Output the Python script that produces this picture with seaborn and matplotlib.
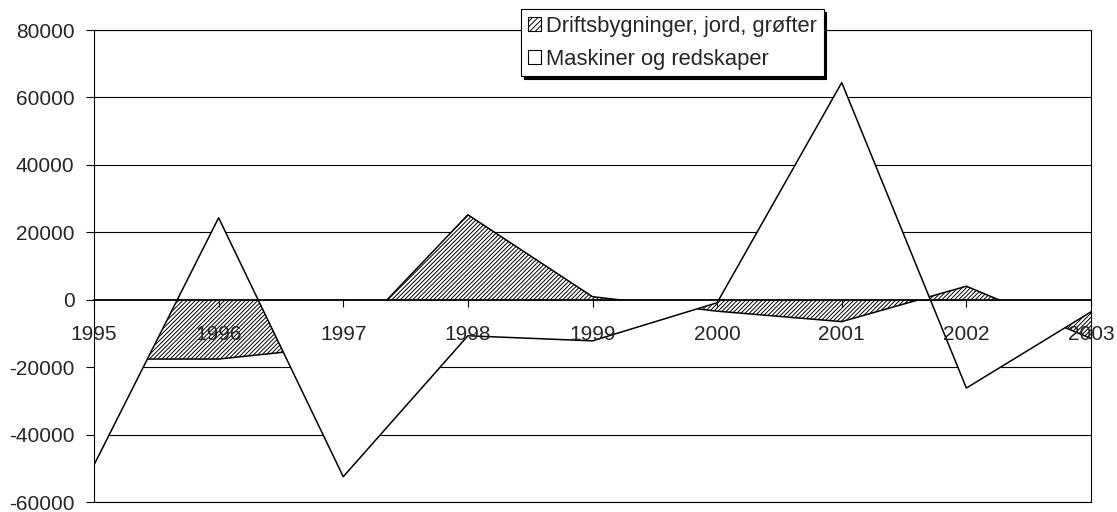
import pandas as pd
import matplotlib
matplotlib.use('Agg')
import matplotlib.pyplot as plt
from matplotlib.patches import Patch
import seaborn as sns

# data lest av fra figuren
aar = [1995, 1996, 1997, 1998, 1999, 2000, 2001, 2002, 2003]
driftsbygninger = [-17600, -17600, -13700, 25200, 900, -3400, -6500, 4000, -11500]
maskiner = [-49000, 24300, -52500, -10700, -12200, -900, 64400, -26200, -3600]
serienavn = ['Driftsbygninger, jord, grøfter', 'Maskiner og redskaper']
y_ticks = [-60000, -40000, -20000, 0, 20000, 40000, 60000, 80000]

sns.set_style('white')
plt.rcParams['font.family'] = ['Liberation Sans', 'DejaVu Sans']
plt.rcParams['axes.unicode_minus'] = False
plt.rcParams['hatch.linewidth'] = 0.7

df = pd.DataFrame({'aar': aar, 'drift': driftsbygninger, 'maskiner': maskiner})

fig = plt.figure(figsize=(11.17, 5.12), dpi=100)
ax = fig.add_axes([94 / 1117, 1 - 502 / 512, (1091 - 94) / 1117, (502 - 30) / 512])

# skravert serie bakerst, hvit serie foran (dekker den skraverte)
ax.fill_between(df['aar'], 0, df['drift'], facecolor='white', edgecolor='black',
                hatch='////////', linewidth=0, zorder=2)
sns.lineplot(data=df, x='aar', y='drift', color='black', lw=1.1, ax=ax, zorder=2.5)
ax.fill_between(df['aar'], 0, df['maskiner'], facecolor='white', edgecolor='black',
                linewidth=0, zorder=3)
sns.lineplot(data=df, x='aar', y='maskiner', color='black', lw=1.1, ax=ax, zorder=3.5)

ax.set_xlabel('')
ax.set_ylabel('')
ax.set_xlim(aar[0], aar[-1])
ax.set_ylim(y_ticks[0], y_ticks[-1])
ax.set_xticks(aar)
ax.set_xticklabels([str(a) for a in aar])
ax.set_yticks(y_ticks)
ax.yaxis.grid(True, color='black', lw=0.8)
ax.axhline(y_ticks[0], color='black', lw=0.8, clip_on=False, zorder=6)

for s in ax.spines.values():
    s.set_color('black')
    s.set_linewidth(0.8)
    s.set_visible(True)
    s.set_zorder(6)
ax.spines['bottom'].set_position(('data', 0))
ax.spines['bottom'].set_linewidth(1.3)
ax.xaxis.set_zorder(6)
ax.yaxis.set_zorder(0.5)

ax.tick_params(axis='x', direction='out', length=5, width=0.8, color='black',
               pad=13, labelsize=15, bottom=True)
ax.tick_params(axis='y', direction='out', length=6, width=0.8, color='black',
               pad=8, labelsize=15, left=True)

handles = [Patch(facecolor='white', edgecolor='black', hatch='//////', lw=0.8),
           Patch(facecolor='white', edgecolor='black', lw=0.8)]
leg = fig.legend(handles, serienavn, loc='upper left',
                 bbox_to_anchor=(521 / 1117, 1 - 9 / 512), fontsize=15.8,
                 frameon=True, fancybox=False, framealpha=1,
                 shadow={'color': 'black', 'alpha': 1},
                 handlelength=0.6, handleheight=0.6, handletextpad=0.25,
                 labelspacing=0.55, borderpad=0.3, borderaxespad=0)
leg.get_frame().set_edgecolor('black')
leg.get_frame().set_linewidth(0.8)

fig.savefig('out.png', dpi=100)
